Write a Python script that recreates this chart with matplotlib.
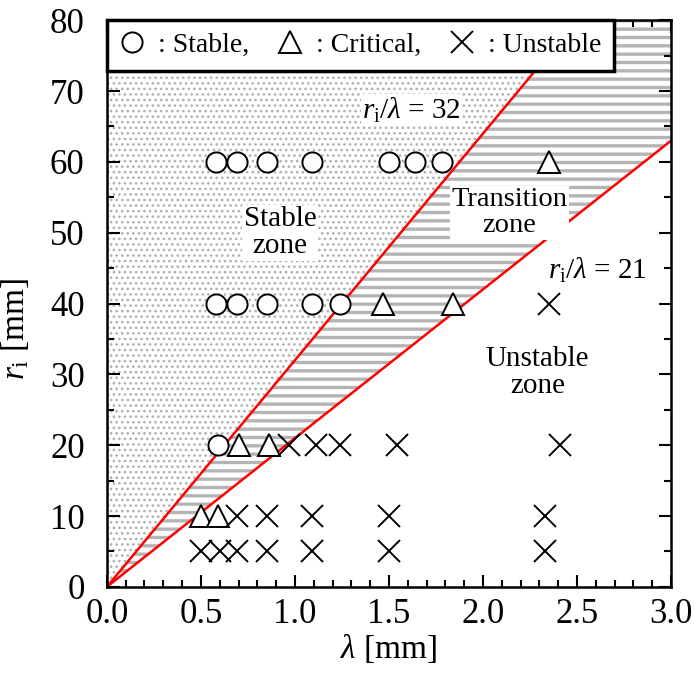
import matplotlib
matplotlib.use("Agg")
import matplotlib.pyplot as plt
from matplotlib.lines import Line2D
import numpy as np

plt.rcParams['font.family'] = ['Liberation Serif', 'DejaVu Serif']
plt.rcParams['mathtext.fontset'] = 'custom'
plt.rcParams['mathtext.rm'] = 'Liberation Serif'
plt.rcParams['mathtext.it'] = 'Liberation Serif:italic'
plt.rcParams['hatch.linewidth'] = 2.2

# ---- data ----
stable_lam = [0.58, 0.69, 0.85, 1.09, 1.50, 1.64, 1.78,
              0.58, 0.69, 0.85, 1.09, 1.24,
              0.59]
stable_r = [60, 60, 60, 60, 60, 60, 60,
            40, 40, 40, 40, 40,
            20]
critical_lam = [2.35, 1.47, 1.84, 0.70, 0.86, 0.50, 0.59]
critical_r = [60, 40, 40, 20, 20, 10, 10]
unstable_lam = [2.35,
                0.97, 1.11, 1.24, 1.54, 2.41,
                0.69, 0.85, 1.09, 1.50, 2.33,
                0.50, 0.60, 0.69, 0.85, 1.09, 1.50, 2.33]
unstable_r = [40,
              20, 20, 20, 20, 20,
              10, 10, 10, 10, 10,
              5, 5, 5, 5, 5, 5, 5]
ratio_upper = 32
ratio_lower = 21
xlim = (0.0, 3.0)
ylim = (0, 80)

fig = plt.figure(figsize=(6.94, 6.73), dpi=100)
ax = fig.add_axes([0.154, 0.128, 0.813, 0.842])
ax.set_xlim(*xlim)
ax.set_ylim(*ylim)

lam_top_upper = ylim[1] / ratio_upper
# stable zone (dotted)
p1 = ax.fill([0, lam_top_upper, 0], [0, ylim[1], ylim[1]],
             facecolor='white', edgecolor='#b0b0b0', hatch='...', linewidth=0, zorder=0)[0]
if hasattr(p1, 'set_hatch_linewidth'):
    p1.set_hatch_linewidth(1.1)
# transition zone (stripes)
p2 = ax.fill([0, lam_top_upper, xlim[1], xlim[1]],
             [0, ylim[1], ylim[1], ratio_lower * xlim[1]],
             facecolor='white', edgecolor='#b4b4b4', hatch='--', linewidth=0, zorder=0)[0]
if hasattr(p2, 'set_hatch_linewidth'):
    p2.set_hatch_linewidth(2.4)

lam_line = np.array(xlim)
ax.plot(lam_line, ratio_upper * lam_line, color='red', lw=1.8, zorder=2)
ax.plot(lam_line, ratio_lower * lam_line, color='red', lw=1.8, zorder=2)

ax.plot(stable_lam, stable_r, 'o', ms=14.5, mfc='white', mec='black', mew=1.4, ls='none', zorder=3)
ax.plot(critical_lam, critical_r, '^', ms=15.5, mfc='white', mec='black', mew=1.4, ls='none', zorder=3)
ax.plot(unstable_lam, unstable_r, 'x', ms=16, mec='black', mew=1.4, ls='none', zorder=3)

bb = dict(facecolor='white', edgecolor='none', pad=1)
fs_ann = 21
ax.text(1.62, 67.3, r'$r_{\rm i}/\lambda$ = 32', fontsize=fs_ann, ha='center', va='center', bbox=bb, zorder=4)
ax.text(2.61, 44.7, r'$r_{\rm i}/\lambda$ = 21', fontsize=fs_ann, ha='center', va='center', bbox=bb, zorder=4)
ax.text(0.92, 50.0, 'Stable\nzone', fontsize=fs_ann, ha='center', va='center', linespacing=1.05, bbox=bb, zorder=4)
ax.text(2.14, 52.8, 'Transition\nzone', fontsize=20.5, ha='center', va='center', linespacing=1.05, bbox=bb, zorder=4)
ax.text(2.29, 30.2, 'Unstable\nzone', fontsize=fs_ann, ha='center', va='center', linespacing=1.05, bbox=bb, zorder=4)

ax.set_xticks(np.arange(0, 3.01, 0.5))
ax.set_xticks(np.arange(0, 3.01, 0.1), minor=True)
ax.set_yticks(np.arange(0, 81, 10))
ax.set_yticks(np.arange(0, 81, 5), minor=True)
ax.set_xticklabels([f'{v:.1f}' for v in np.arange(0, 3.01, 0.5)])
ax.tick_params(which='both', direction='in', top=True, right=True, width=1.5, labelsize=25)
ax.tick_params(which='major', length=9)
ax.tick_params(which='minor', length=5)
ax.tick_params(axis='x', pad=8)
ax.tick_params(axis='y', pad=16)
for s in ax.spines.values():
    s.set_linewidth(1.8)

ax.set_xlabel(r'$\lambda$ [mm]', fontsize=24, labelpad=1)
ax.set_ylabel(r'$r_{\rm i}$ [mm]', fontsize=24)
ax.yaxis.set_label_coords(-0.135, 0.455)

handles = [Line2D([], [], marker='o', ms=14.5, mfc='white', mec='black', mew=1.4, ls='none'),
           Line2D([], [], marker='^', ms=15.5, mfc='white', mec='black', mew=1.4, ls='none'),
           Line2D([], [], marker='x', ms=16, mec='black', mew=1.4, ls='none')]
leg = ax.legend(handles, [': Stable,', ': Critical,', ': Unstable'], loc='upper left',
                ncol=3, fontsize=20, frameon=True, fancybox=False, borderaxespad=0,
                handlelength=0.9, handletextpad=0.5, columnspacing=1.0,
                borderpad=0.45, framealpha=1)
leg.get_frame().set_edgecolor('black')
leg.get_frame().set_linewidth(2.5)
leg.set_zorder(5)

fig.savefig('out.png', dpi=100)
